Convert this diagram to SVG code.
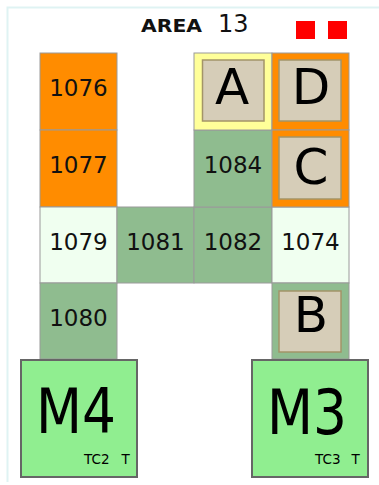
<svg xmlns="http://www.w3.org/2000/svg" width="379" height="485" viewBox="0 0 379 485">
  <style>
    .cell { stroke: #9a9a9a; stroke-width: 1; }
    .orange { fill: #ff8c00; }
    .green { fill: #8fbc8f; }
    .light { fill: #f0fff0; }
    .yellow { fill: #ffff99; }
    .inner { fill: #d6cdb8; stroke: #a39468; stroke-width: 1.5; }
    .mbox { fill: #90ee90; stroke: #666666; stroke-width: 2; }
    .num { font-family: "DejaVu Sans", Verdana, sans-serif; font-size: 23px; fill: #111; text-anchor: middle; }
    .big { font-family: "DejaVu Sans", Verdana, sans-serif; font-size: 50px; fill: #000; text-anchor: middle; }
    .mlabel { font-family: "DejaVu Sans", Verdana, sans-serif; font-size: 62px; fill: #000; text-anchor: middle; }
    .small { font-family: "DejaVu Sans", Verdana, sans-serif; font-size: 13.5px; fill: #000; }
  </style>
  <rect x="0" y="0" width="379" height="485" fill="#ffffff"/>
  <path d="M7.5 482 V7.5 H379" fill="none" stroke="#dff3f3" stroke-width="2"/>

  <g id="title">
    <text x="141" y="31.5" font-family="'DejaVu Sans', Verdana, sans-serif" font-size="18" font-weight="bold" fill="#111" textLength="61" lengthAdjust="spacingAndGlyphs">AREA</text>
    <text x="218" y="31.5" font-family="'DejaVu Sans', Verdana, sans-serif" font-size="24" fill="#111">13</text>
  </g>
  <g id="indicators">
    <rect x="296" y="21" width="19" height="18" fill="#ff0000"/>
    <rect x="328" y="21" width="19" height="18" fill="#ff0000"/>
  </g>

  <g id="n1076"><rect class="cell orange" x="40" y="53" width="77" height="77"/><text class="num" x="78.5" y="96">1076</text></g>
  <g id="n1077"><rect class="cell orange" x="40" y="130" width="77" height="77"/><text class="num" x="78.5" y="173">1077</text></g>
  <g id="n1079"><rect class="cell light" x="40" y="207" width="77" height="76"/><text class="num" x="78.5" y="249.5">1079</text></g>
  <g id="n1080"><rect class="cell green" x="40" y="283" width="77" height="76"/><text class="num" x="78.5" y="326">1080</text></g>
  <g id="n1081"><rect class="cell green" x="117" y="207" width="77" height="76"/><text class="num" x="155.5" y="249.5">1081</text></g>
  <g id="n1082"><rect class="cell green" x="194" y="207" width="78" height="76"/><text class="num" x="233" y="249.5">1082</text></g>
  <g id="n1084"><rect class="cell green" x="194" y="130" width="78" height="77"/><text class="num" x="233" y="173">1084</text></g>
  <g id="n1074"><rect class="cell light" x="272" y="207" width="77" height="76"/><text class="num" x="310.5" y="249.5">1074</text></g>

  <g id="nA"><rect class="cell yellow" x="194" y="53" width="78" height="77"/><rect class="inner" x="202.5" y="60" width="61.5" height="61"/><text class="big" x="232" y="104">A</text></g>
  <g id="nD"><rect class="cell orange" x="272" y="53" width="77" height="77"/><rect class="inner" x="279" y="60" width="62" height="61"/><text class="big" x="311" y="104">D</text></g>
  <g id="nC"><rect class="cell orange" x="272" y="130" width="77" height="77"/><rect class="inner" x="279" y="137" width="62" height="62"/><text class="big" x="311" y="184">C</text></g>
  <g id="nB"><rect class="cell green" x="272" y="283" width="77" height="76"/><rect class="inner" x="279" y="291" width="62" height="61"/><text class="big" x="311" y="332">B</text></g>

  <g id="nM4">
    <rect class="mbox" x="21" y="360" width="116" height="117"/>
    <text class="mlabel" x="76" y="433" textLength="80" lengthAdjust="spacingAndGlyphs">M4</text>
    <text class="small" x="84" y="464">TC2</text>
    <text class="small" x="121.5" y="464">T</text>
  </g>
  <g id="nM3">
    <rect class="mbox" x="252" y="360" width="116" height="117"/>
    <text class="mlabel" x="307" y="434" textLength="80" lengthAdjust="spacingAndGlyphs">M3</text>
    <text class="small" x="315" y="464">TC3</text>
    <text class="small" x="351.5" y="464">T</text>
  </g>

  <g id="connectors"/>
</svg>
